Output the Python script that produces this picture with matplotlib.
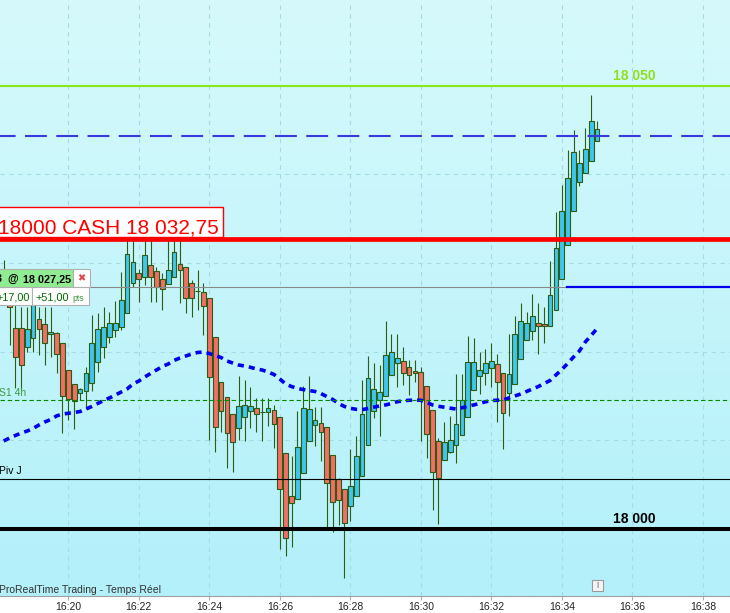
import matplotlib
matplotlib.use("Agg")
import matplotlib.pyplot as plt
import numpy as np
import pandas as pd
from matplotlib.patches import Rectangle
from matplotlib.colors import LinearSegmentedColormap

plt.rcParams['font.family'] = ['Liberation Sans', 'DejaVu Sans']

# ---------------- data (10-second bars, first bar 16:18:10) ----------------
bar_times = pd.date_range("2024-05-15 16:18:10", periods=102, freq="10s")

opens = [18025.83, 18026.96, 18022.67, 18022.67, 18020.49, 18021.51, 18023.65, 18023.09, 18021.99, 18022.07,
         18020.95, 18017.93, 18016.32, 18015.31, 18015.60, 18016.50, 18018.80, 18020.56, 18021.69, 18022.45,
         18022.82, 18024.33, 18027.71, 18028.84, 18028.46, 18029.78, 18029.13, 18028.23, 18027.60, 18028.39,
         18029.89, 18029.52, 18027.71, 18026.84, 18026.77, 18026.02, 18021.62, 18016.55, 18014.92, 18012.94,
         18011.36, 18012.60, 18013.28, 18013.61, 18013.23, 18013.16, 18013.39, 18012.60, 18008.54, 18003.69,
         18003.35, 18006.28, 18009.89, 18011.70, 18011.92, 18011.47, 18008.31, 18005.61, 18004.48, 18002.56,
         18003.69, 18005.94, 18009.44, 18013.28, 18014.52, 18014.97, 18017.34, 18018.69, 18018.92, 18018.24,
         18017.79, 18017.67, 18016.10, 18013.39, 18009.89, 18007.75, 18008.72, 18009.44, 18010.57, 18012.60,
         18015.64, 18017.22, 18017.56, 18018.13, 18018.58, 18017.56, 18015.31, 18016.32, 18019.14, 18021.28,
         18022.30, 18023.20, 18023.09, 18022.93, 18024.70, 18028.16, 18032.00, 18035.83, 18039.10, 18040.12,
         18041.47, 18043.73]
highs = [18030.34, 18029.21, 18026.05, 18025.04, 18025.07, 18025.83, 18025.07, 18025.07, 18025.07, 18022.25,
         18020.95, 18017.93, 18016.32, 18015.87, 18018.31, 18024.14, 18024.33, 18025.01, 18024.51, 18025.72,
         18028.99, 18033.72, 18033.05, 18029.29, 18033.50, 18033.27, 18029.59, 18028.84, 18033.05, 18033.72,
         18033.05, 18029.52, 18028.08, 18029.21, 18027.71, 18026.02, 18021.62, 18016.55, 18014.92, 18012.94,
         18017.22, 18016.81, 18015.98, 18014.74, 18014.74, 18014.74, 18013.99, 18012.60, 18008.54, 18008.27,
         18013.34, 18016.16, 18017.22, 18013.73, 18013.73, 18011.47, 18008.31, 18005.72, 18004.48, 18009.02,
         18010.46, 18016.77, 18019.48, 18018.69, 18018.46, 18023.43, 18021.96, 18021.96, 18020.49, 18019.03,
         18019.03, 18018.24, 18016.10, 18013.39, 18010.23, 18012.03, 18012.75, 18017.48, 18017.48, 18021.77,
         18021.54, 18019.96, 18020.30, 18020.98, 18019.74, 18017.56, 18021.99, 18024.02, 18025.49, 18024.48,
         18026.51, 18025.49, 18025.04, 18030.23, 18035.72, 18038.80, 18042.75, 18045.00, 18042.75, 18045.19,
         18048.95, 18045.98]
lows = [18025.27, 18020.75, 18015.90, 18015.68, 18020.00, 18020.00, 18019.63, 18018.50, 18019.43, 18017.56,
        18010.79, 18012.29, 18011.25, 18014.55, 18013.57, 18015.60, 18017.74, 18019.25, 18020.98, 18021.69,
        18022.45, 18024.33, 18027.33, 18025.64, 18027.52, 18025.64, 18025.64, 18024.70, 18027.60, 18028.39,
        18025.46, 18024.40, 18023.95, 18024.70, 18021.88, 18010.04, 18008.72, 18010.97, 18006.91, 18006.46,
        18010.04, 18009.96, 18011.43, 18010.97, 18009.96, 18011.65, 18009.17, 17997.71, 17996.99, 17998.00,
        18003.35, 18006.28, 18009.89, 18009.40, 18007.70, 18000.19, 17999.70, 18000.48, 17994.51, 18000.94,
        18003.69, 18005.94, 18009.44, 18012.49, 18010.46, 18014.97, 18017.34, 18015.98, 18016.21, 18015.08,
        18016.55, 18009.96, 18007.97, 18002.18, 18000.53, 18007.75, 18008.54, 18007.48, 18010.57, 18012.60,
        18015.64, 18015.19, 18016.21, 18015.98, 18012.03, 18008.99, 18012.71, 18016.32, 18019.14, 18021.28,
        18021.28, 18019.70, 18020.95, 18022.93, 18024.70, 18028.16, 18032.00, 18035.83, 18038.72, 18040.12,
        18041.47, 18043.73]
closes = [18028.65, 18025.07, 18019.40, 18018.50, 18022.52, 18025.60, 18022.52, 18020.95, 18022.22, 18019.70,
          18015.00, 18014.63, 18014.44, 18015.76, 18017.56, 18020.95, 18022.52, 18022.82, 18023.20, 18023.27,
          18025.80, 18030.98, 18030.08, 18028.16, 18030.90, 18028.46, 18027.33, 18027.04, 18029.18, 18031.21,
          18029.18, 18026.02, 18026.02, 18026.84, 18025.15, 18017.18, 18011.47, 18013.34, 18010.79, 18009.78,
          18013.84, 18013.95, 18013.84, 18012.94, 18013.23, 18013.61, 18011.81, 18004.48, 17998.95, 18002.90,
          18009.21, 18013.61, 18013.50, 18012.26, 18010.91, 18005.15, 18003.01, 18003.24, 18000.64, 18004.82,
          18008.20, 18012.94, 18017.00, 18015.76, 18015.42, 18019.59, 18019.93, 18019.25, 18017.56, 18017.34,
          18017.56, 18014.63, 18010.68, 18006.40, 18005.72, 18009.78, 18010.00, 18011.81, 18014.52, 18018.80,
          18018.80, 18017.90, 18018.69, 18018.92, 18016.55, 18013.05, 18017.45, 18021.96, 18023.43, 18023.20,
          18023.99, 18022.86, 18022.86, 18026.36, 18031.66, 18035.83, 18039.56, 18042.49, 18041.25, 18042.83,
          18045.98, 18045.08]
moving_avg = [18009.93, 18010.26, 18010.55, 18010.83, 18011.05, 18011.34, 18011.73, 18012.07, 18012.35, 18012.75,
              18012.97, 18013.05, 18013.14, 18013.25, 18013.53, 18013.82, 18014.16, 18014.49, 18014.78, 18015.11,
              18015.45, 18015.79, 18016.35, 18016.69, 18017.14, 18017.54, 18017.93, 18018.33, 18018.61, 18019.01,
              18019.29, 18019.51, 18019.74, 18019.91, 18019.96, 18019.79, 18019.57, 18019.34, 18018.95, 18018.72,
              18018.50, 18018.38, 18018.24, 18018.05, 18017.93, 18017.71, 18017.43, 18016.92, 18016.35, 18016.07,
              18015.85, 18015.73, 18015.62, 18015.51, 18015.28, 18014.94, 18014.61, 18014.16, 18013.82, 18013.61,
              18013.50, 18013.46, 18013.59, 18013.74, 18013.87, 18013.99, 18014.16, 18014.36, 18014.46, 18014.52,
              18014.53, 18014.52, 18014.27, 18013.99, 18013.84, 18013.74, 18013.63, 18013.53, 18013.67, 18013.84,
              18013.99, 18014.16, 18014.35, 18014.49, 18014.52, 18014.55, 18014.78, 18015.00, 18015.23, 18015.51,
              18015.79, 18016.07, 18016.41, 18016.75, 18017.37, 18017.99, 18018.67, 18019.40, 18020.08, 18021.09,
              18021.83, 18022.61]

level_target = 18050.0
level_dashed = 18044.33
level_last = 18032.75
level_position = 18027.25
level_s1 = 18014.55
level_piv = 18005.64
level_round = 18000.0
tick_minutes = [20, 22, 24, 26, 28, 30, 32, 34, 36, 38]
tick_labels = ["16:20", "16:22", "16:24", "16:26", "16:28", "16:30", "16:32", "16:34", "16:36", "16:38"]

# ---------------- layout helpers (pixel -> data) ----------------
W, H = 730, 613
AX_H = 596
def X(px):
    return 20 + (px - 68.3) / 35.25
def Y(py):
    return 18000 + (529 - py) / 8.866

fig = plt.figure(figsize=(W / 100, H / 100), dpi=100, facecolor="white")
ax = fig.add_axes([0, (H - AX_H) / H, 1, AX_H / H])
ax.set_xlim(X(0), X(W))
ax.set_ylim(Y(AX_H), Y(0))

# gradient background
cmap = LinearSegmentedColormap.from_list("bg", ["#d6fafc", "#b3f0fa"])
ax.imshow(np.linspace(0, 1, 256).reshape(-1, 1), cmap=cmap, extent=[0, 1, 0, 1],
          transform=ax.transAxes, aspect="auto", zorder=0)

# grid
grid_col = "#a6dbe6"
for m in tick_minutes:
    ax.axvline(m, color=grid_col, lw=0.8, ls=(0, (4, 4)), zorder=1)
for p in [18010, 18020, 18030, 18040]:
    ax.axhline(p, color=grid_col, lw=0.8, ls=(0, (4, 4)), zorder=1)

# candles
xt = [(t.hour - 16) * 60 + t.minute + t.second / 60 for t in bar_times]
EDGE = "#2e5c10"
BULL = "#3ec6ee"
BEAR = "#f26e66"
bw = 0.132
for t, o, h, l, c in zip(xt, opens, highs, lows, closes):
    col = BULL if c > o else (BEAR if c < o else EDGE)
    ax.plot([t, t], [l, h], color=EDGE, lw=0.8, zorder=3, solid_capstyle="butt")
    ax.add_patch(Rectangle((t - bw / 2, min(o, c)), bw, abs(c - o), facecolor=col,
                           edgecolor=EDGE, lw=0.8, zorder=4))

# moving average
ax.plot(xt, moving_avg, color="#0000ee", lw=2.6, ls=(0, (1.7, 1.4)), zorder=5,
        dash_capstyle="butt")

# horizontal levels
ax.axhline(level_target, color="#88e81a", lw=1.5, zorder=6)
ax.axhline(level_dashed, color="#3a3adc", lw=1.5, ls=(3, (10.5, 4.5)), zorder=6)
ax.axhline(level_last, color="#ff0000", lw=3.4, zorder=6)
ax.plot([X(-5), X(567)], [level_position, level_position], color="#8a8a8a", lw=0.8, zorder=6)
ax.plot([X(567), X(735)], [level_position, level_position], color="#0000ee", lw=1.6, zorder=6)
ax.axhline(level_s1, color="#008a00", lw=0.8, ls=(0, (4, 2.5)), zorder=6)
ax.axhline(level_piv, color="black", lw=0.8, zorder=6)
ax.axhline(level_round, color="black", lw=2.9, zorder=6)

# level labels
ax.text(X(634), Y(76.5), "18 050", ha="center", va="center", fontsize=10,
        fontweight="bold", color="#90e020", zorder=8)
ax.text(X(634), Y(519.5), "18 000", ha="center", va="center", fontsize=10,
        fontweight="bold", color="black", zorder=8)
ax.text(X(-1), Y(393), "S1 4h", ha="left", va="center", fontsize=7.5, color="#3f9a3f", zorder=8)
ax.text(X(-1), Y(471), "Piv J", ha="left", va="center", fontsize=7.5, color="black", zorder=8)
ax.text(X(-1), Y(590.5), "ProRealTime Trading - Temps Réel", ha="left", va="center",
        fontsize=7.5, color="#333333", zorder=8)

# last price box
ax.add_patch(Rectangle((X(-5), Y(236.7)), X(222.7) - X(-5), Y(207.3) - Y(236.7),
                       facecolor="white", edgecolor="#ff0000", lw=1.0, zorder=9))
ax.text(X(218.5), Y(234), "18000 CASH 18 032,75", ha="right", va="baseline",
        fontsize=15, color="#ff0000", zorder=10)

# position box
ax.add_patch(Rectangle((X(-5), Y(287.3)), X(73.3) - X(-5), Y(269.3) - Y(287.3),
                       facecolor="#90ec90", edgecolor="#b0b0b0", lw=0.8, zorder=9))
ax.add_patch(Rectangle((X(73.3), Y(287.3)), X(90) - X(73.3), Y(269.3) - Y(287.3),
                       facecolor="white", edgecolor="#b0b0b0", lw=0.8, zorder=9))
ax.add_patch(Rectangle((X(-5), Y(305.3)), X(32.3) - X(-5), Y(287.3) - Y(305.3),
                       facecolor="white", edgecolor="#b0b0b0", lw=0.8, zorder=9))
ax.add_patch(Rectangle((X(32.3), Y(305.3)), X(88.7) - X(32.3), Y(287.3) - Y(305.3),
                       facecolor="white", edgecolor="#b0b0b0", lw=0.8, zorder=9))
ax.text(X(70.7), Y(282.3), "18 027,25", ha="right", va="baseline", fontsize=7.8,
        fontweight="bold", color="black", zorder=10)
ax.text(X(12.5), Y(282.3), "@", ha="center", va="baseline", fontsize=7.8,
        fontweight="bold", color="black", zorder=10)
ax.text(X(1.5), Y(282.3), "3", ha="right", va="baseline", fontsize=7.8,
        fontweight="bold", color="black", zorder=10)
ax.text(X(81.6), Y(278.3), "\u2716", ha="center", va="center", fontsize=7,
        color="#e04848", family="DejaVu Sans", zorder=10)
ax.text(X(30), Y(300.7), "+17,00", ha="right", va="baseline", fontsize=7.8,
        color="#006e00", zorder=10)
ax.text(X(35.5), Y(300.7), "+51,00", ha="left", va="baseline", fontsize=7.8,
        color="#006e00", zorder=10)
ax.text(X(72.5), Y(300.7), "pts", ha="left", va="baseline", fontsize=6.3,
        color="#3f9a3f", zorder=10)

# info icon
ax.add_patch(Rectangle((X(592), Y(591)), X(603) - X(592), Y(580) - Y(591),
                       facecolor="#f4f4f4", edgecolor="#9a9a9a", lw=0.8, zorder=9))
ax.text(X(597.5), Y(585.5), "i", ha="center", va="center", fontsize=7, color="#777777", zorder=10)

# axes styling
for s in ["left", "right", "top"]:
    ax.spines[s].set_visible(False)
ax.spines["bottom"].set_color("#a0a0a0")
ax.spines["bottom"].set_linewidth(0.8)
ax.spines["bottom"].set_zorder(12)
ax.set_yticks([])
ax.set_xticks(tick_minutes)
ax.set_xticklabels(tick_labels)
ax.tick_params(axis="x", length=3, width=0.8, color="#b0b0b0", pad=1.5,
               labelsize=7.5, labelcolor="#222222")

fig.savefig("out.png", dpi=100, facecolor="white")
